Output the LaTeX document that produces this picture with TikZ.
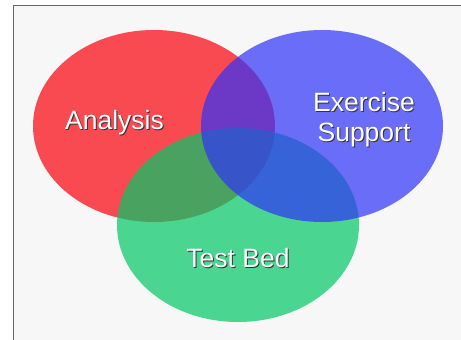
\documentclass[tikz,border=0pt]{standalone}
\usepackage{fontspec}
\setmainfont{Liberation Sans}
\usetikzlibrary{positioning}

\definecolor{analysisred}{RGB}{250,0,11}
\definecolor{supportblue}{RGB}{47,51,247}
\definecolor{testgreen}{RGB}{1,200,103}
\definecolor{panelgray}{RGB}{247,247,247}

\tikzset{
  circlefill/.style={fill opacity=0.7},
  venntext/.style={text=white,anchor=base,align=center,inner sep=0pt,
    font=\fontsize{26.5}{29.5}\selectfont},
  venshadow/.style={venntext,text=black!80}
}

\begin{document}
\begin{tikzpicture}[x=1pt,y=-1pt]
	\useasboundingbox (0,0) rectangle (461,340);
	
	% Draw the panel
	\fill[panelgray] (13.5,5.5) rectangle (461,340);
	\draw[gray!80!black,line width=1pt] (13.5,340) -- (13.5,5.5) -- (461,5.5);
	
	% Draw the three sets
	\fill[analysisred,circlefill] (154,126) ellipse [x radius=121, y radius=96];
	\fill[testgreen,circlefill] (238,225) ellipse [x radius=121, y radius=97];
	\fill[supportblue,circlefill] (322,126) ellipse [x radius=121, y radius=96];
	
	% Draw the labels
	\node[venshadow] (analysis shadow) at (115.5,130) {Analysis};
	\node[venntext] (analysis) at (114.5,129) {Analysis};
	\node[venshadow] (exercise shadow) at (365,142) {Exercise\\Support};
	\node[venntext] (exercise) at (364,141) {Exercise\\Support};
	\node[venshadow] (testbed shadow) at (239,268) {Test Bed};
	\node[venntext] (testbed) at (238,267) {Test Bed};

\end{tikzpicture}
\end{document}
